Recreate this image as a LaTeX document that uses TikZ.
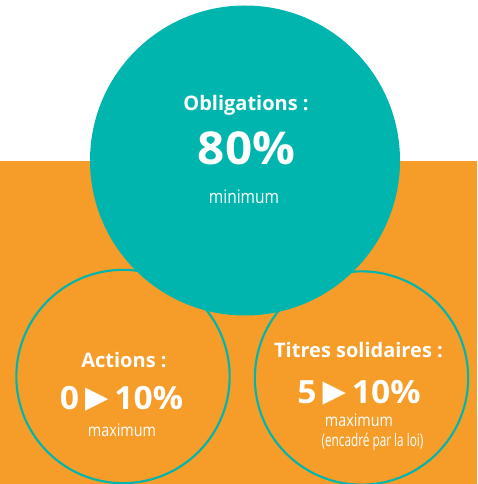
\documentclass[tikz,border=0pt]{standalone}
\usepackage{fontspec}
\setmainfont{Open Sans}
\newfontfamily\widefont[FakeStretch=1.05]{Open Sans}
\newfontfamily\condfont[FakeStretch=0.83]{Open Sans}
\newfontfamily\narrowfont[FakeStretch=0.68]{Open Sans}
\newfontfamily\symbfont{DejaVu Sans}
\usepackage{tikz}
\usetikzlibrary{positioning}
\definecolor{oblteal}{RGB}{0,181,173}
\definecolor{bgorange}{RGB}{246,157,41}
\def\tri{\hspace{4.5pt}{\symbfont\raisebox{1pt}{\scalebox{0.95}{▶}}}\hspace{4.5pt}}
\tikzset{
    title/.style={text=white, anchor=base, inner sep=0, font=\bfseries\fontsize{15}{18}\selectfont},
    bignum/.style={text=white, anchor=base, inner sep=0, font=\widefont\bfseries\fontsize{34}{40}\selectfont},
    midnum/.style={text=white, anchor=base, inner sep=0, font=\widefont\bfseries\fontsize{24}{28}\selectfont},
    small/.style={text=white, anchor=base, inner sep=0, font=\condfont\fontsize{13}{15}\selectfont},
    note/.style={text=white, anchor=base, inner sep=0, font=\narrowfont\fontsize{13}{15}\selectfont},
    ringcircle/.style={circle, draw=oblteal, fill=bgorange, line width=1.6pt, minimum size=160pt, inner sep=0},
}
\begin{document}
\begin{tikzpicture}[x=0.75pt, y=-0.75pt]
    \useasboundingbox (0,0) rectangle (477,484);

    % background
    \fill[bgorange] (0,161) rectangle (477,484);

    % small circles
    \node[ringcircle] (actions) at (123,376.5) {};
    \node[ringcircle] (titres) at (361.5,378) {};

    % big circle
    \node[circle, fill=oblteal, minimum size=232.5pt, inner sep=0] (oblig) at (245,160.5) {};

    % texts
    \node[title] (obltitle) at (246,111) {Obligations :};
    \node[bignum] (oblnum) at (246.5,165) {80\%};
    \node[small, font=\condfont\fontsize{14}{16}\selectfont] (oblmin) at (244,204) {minimum};

    \node[title] (acttitle) at (124,367) {Actions :};
    \node[midnum] (actnum) at (121.5,409) {0\tri10\%};
    \node[small] (actmax) at (122,436) {maximum};

    \node[title] (tittitle) at (358.5,357.5) {Titres solidaires :};
    \node[midnum] (titnum) at (359,403) {5\tri10\%};
    \node[small] (titmax) at (359,426) {maximum};
    \node[note] (titloi) at (372.5,446) {(encadré par la loi)};
\end{tikzpicture}
\end{document}
